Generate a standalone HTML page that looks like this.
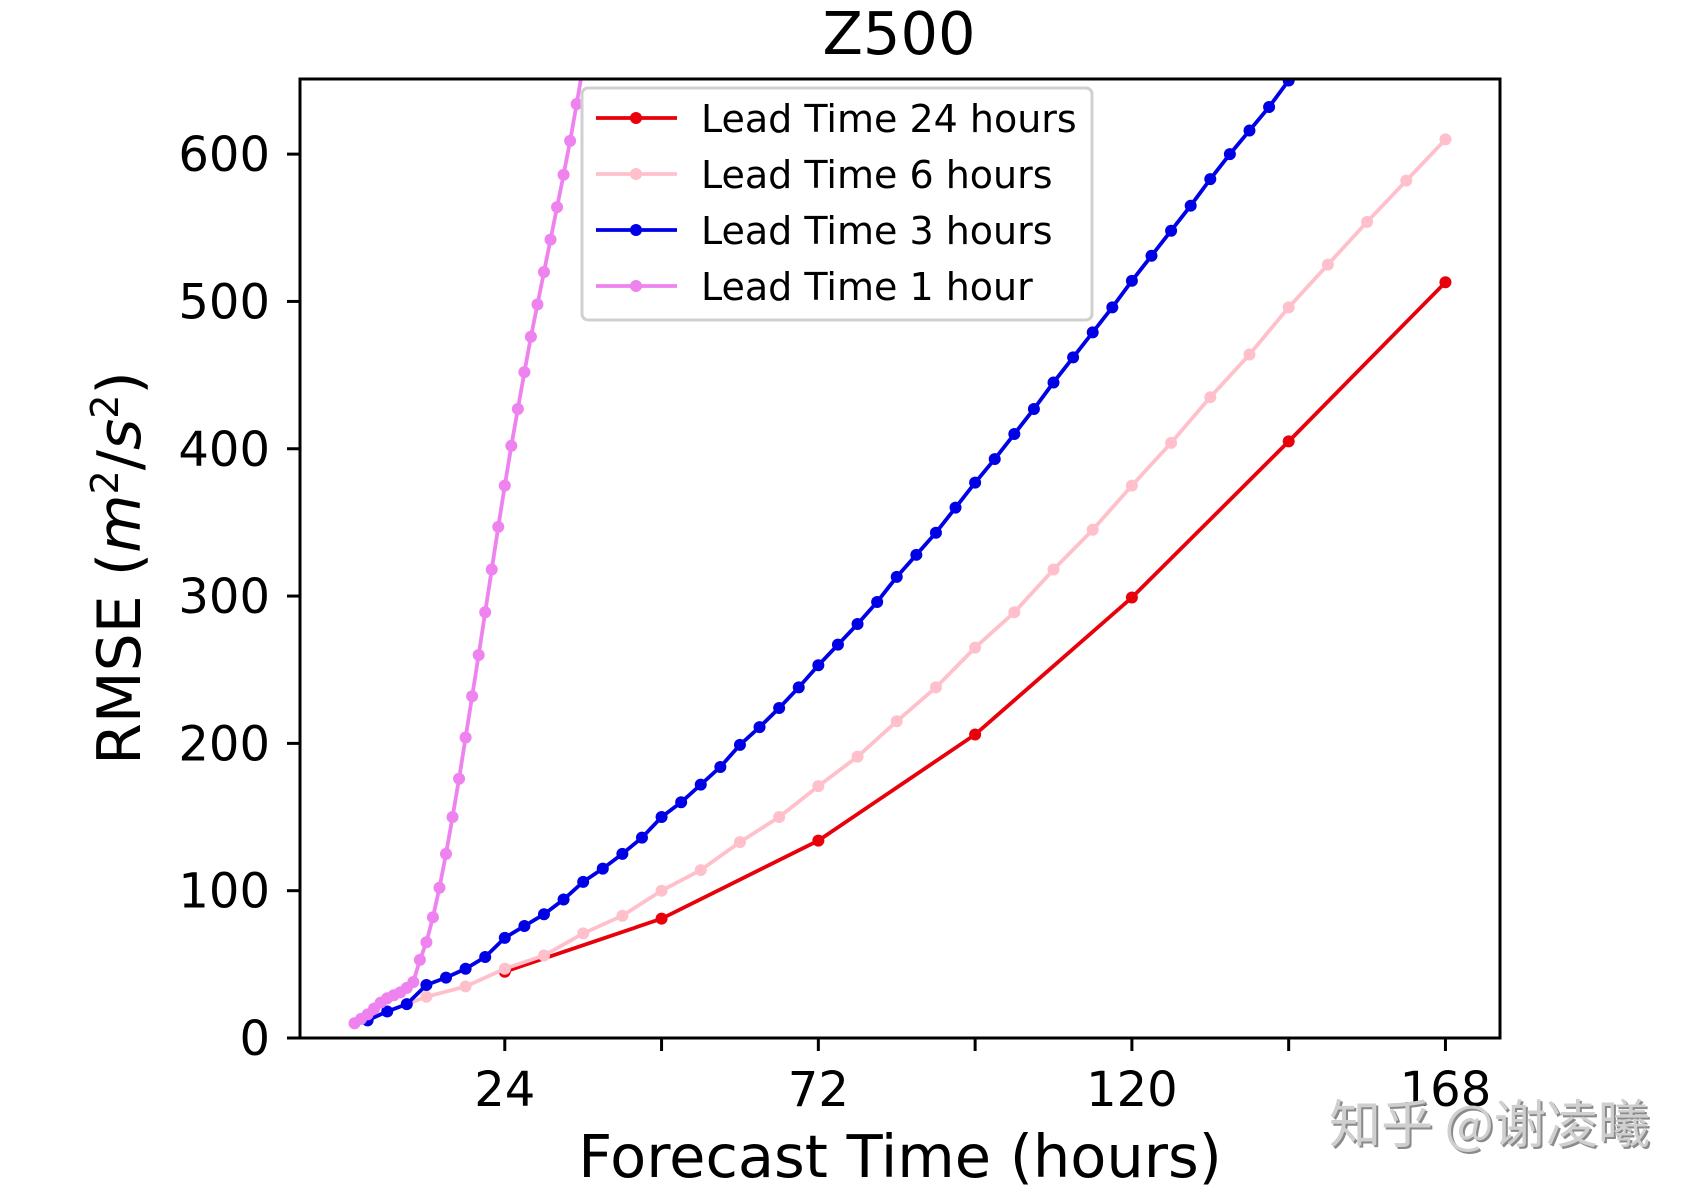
<!DOCTYPE html>
<html><head><meta charset="utf-8"><style>
body{margin:0;background:#fff}
svg{display:block;font-family:"DejaVu Sans","Liberation Sans","Noto Sans CJK SC",sans-serif}
</style></head><body>
<svg id="chart" width="1688" height="1193" viewBox="0 0 1688 1193" xmlns="http://www.w3.org/2000/svg">
<text x="899" y="54" font-size="59" text-anchor="middle">Z500</text>
<g id="plot"></g>
<text transform="translate(140,568) rotate(-90)" font-size="60" text-anchor="middle">RMSE (<tspan font-style="italic">m</tspan><tspan font-size="38" dy="-22">2</tspan><tspan dy="22">/</tspan><tspan font-style="italic">s</tspan><tspan font-size="38" dy="-22">2</tspan><tspan dy="22">)</tspan></text>
<text x="900" y="1177" font-size="59" text-anchor="middle">Forecast Time (hours)</text>
<g font-size="52" font-family="'Noto Sans CJK SC',sans-serif">
<text x="1331" y="1145" fill="#8a8a8a">知乎 @谢凌曦</text>
<text x="1329" y="1143" fill="#cfcfcf">知乎 @谢凌曦</text>
</g>
</svg>
<script>
const xTicks=[24,48,72,96,120,144,168];
const xTickLabels=["24","","72","","120","","168"];
const yTicks=[0,100,200,300,400,500,600];
const x24=[24,48,72,96,120,144,168];
const y24=[45,81,134,206,299,405,513];
const x6=[1,6,12,18,24,30,36,42,48,54,60,66,72,78,84,90,96,102,108,114,120,126,132,138,144,150,156,162,168];
const y6=[10,18,28,35,47,56,71,83,100,114,133,150,171,191,215,238,265,289,318,345,375,404,435,464,496,525,554,582,610];
const x3=[3,6,9,12,15,18,21,24,27,30,33,36,39,42,45,48,51,54,57,60,63,66,69,72,75,78,81,84,87,90,93,96,99,102,105,108,111,114,117,120,123,126,129,132,135,138,141,144,147,150];
const y3=[12,18,23,36,41,47,55,68,76,84,94,106,115,125,136,150,160,172,184,199,211,224,238,253,267,281,296,313,328,343,360,377,393,410,427,445,462,479,496,514,531,548,565,583,600,616,632,650,668,686];
const x1=[1,2,3,4,5,6,7,8,9,10,11,12,13,14,15,16,17,18,19,20,21,22,23,24,25,26,27,28,29,30,31,32,33,34,35,36,37];
const y1=[10,13,16,20,24,27,29,31,34,38,53,65,82,102,125,150,176,204,232,260,289,318,347,375,402,427,452,476,498,520,542,564,586,609,634,660,686];
const L=300,R=1500,T=79,B=1038,xmin=-7.35,xmax=176.35,ymin=0,ymax=651;
const X=h=>L+(h-xmin)/(xmax-xmin)*(R-L);
const Y=v=>B-(v-ymin)/(ymax-ymin)*(B-T);
const NS="http://www.w3.org/2000/svg";
const g=document.getElementById('plot');
function mk(tag,attrs,parent){const e=document.createElementNS(NS,tag);for(const k in attrs)e.setAttribute(k,attrs[k]);(parent||g).appendChild(e);return e;}
const defs=mk('defs',{});
const cp=mk('clipPath',{id:'clip'},defs);mk('rect',{x:L,y:T,width:R-L,height:B-T},cp);
const data=mk('g',{'clip-path':'url(#clip)'});
function series(xs,ys,color,name){
  const s=mk('g',{},data);
  
  
  const pl=mk('polyline',{points:xs.map((x,i)=>X(x)+','+Y(ys[i])).join(' '),fill:'none',stroke:color,'stroke-width':3.8},s);
  
  
  xs.forEach((x,i)=>{const c=mk('circle',{cx:X(x),cy:Y(ys[i]),r:6,fill:color},s);
    
    });
}
series(x24,y24,'#e8000b','series-24h');
series(x6,y6,'#ffc0cb','series-6h');
series(x3,y3,'#0000e6','series-3h');
series(x1,y1,'#ee82ee','series-1h');
const frame=mk('rect',{x:L,y:T,width:R-L,height:B-T,fill:'none',stroke:'#000','stroke-width':3});


xTicks.forEach((t,i)=>{mk('line',{x1:X(t),x2:X(t),y1:B,y2:B+13,stroke:'#000','stroke-width':3});
  if(xTickLabels[i]){const tx=mk('text',{x:X(t),y:B+68,'font-size':48,'text-anchor':'middle'});tx.textContent=xTickLabels[i];
  
  }});
yTicks.forEach(t=>{mk('line',{x1:L-13,x2:L,y1:Y(t),y2:Y(t),stroke:'#000','stroke-width':3});
  const tx=mk('text',{x:L-30,y:Y(t)+17,'font-size':48,'text-anchor':'end'});tx.textContent=t;
  
  });
const leg=mk('g',{});


mk('rect',{x:582,y:88,width:510,height:232,rx:6,fill:'#fff','fill-opacity':0.85,stroke:'#d0d0d0','stroke-width':3},leg);
const legLabels=['Lead Time 24 hours','Lead Time 6 hours','Lead Time 3 hours','Lead Time 1 hour'];
const legColors=['#e8000b','#ffc0cb','#0000e6','#ee82ee'];
legLabels.forEach((lb,i)=>{const y=118+i*56;
  const e=mk('g',{},leg);
  
  
  mk('line',{x1:596,x2:677,y1:y,y2:y,stroke:legColors[i],'stroke-width':3.8},e);
  mk('circle',{cx:636,cy:y,r:6,fill:legColors[i]},e);
  const tx=mk('text',{x:701,y:y+14,'font-size':38},e);tx.textContent=lb;});
</script>
</body></html>
